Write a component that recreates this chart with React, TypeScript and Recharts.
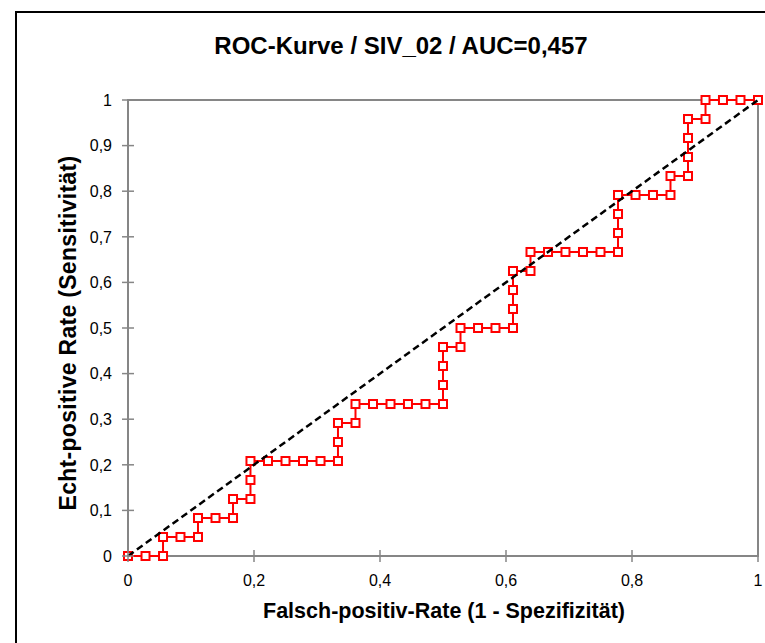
import { ScatterChart, Scatter, XAxis, YAxis, ReferenceArea } from 'recharts'

const RED = '#ff0000'
const AXIS = '#868686'
const FONT = '"Liberation Sans", Arial, sans-serif'

// ROC points (false positive rate, true positive rate)
const FPR = [
  0, 0.0278, 0.0556, 0.0556, 0.0833, 0.1111, 0.1111, 0.1389, 0.1667, 0.1667,
  0.1944, 0.1944, 0.1944, 0.2222, 0.25, 0.2778, 0.3056, 0.3333, 0.3333, 0.3333,
  0.3611, 0.3611, 0.3889, 0.4167, 0.4444, 0.4722, 0.5, 0.5, 0.5, 0.5,
  0.5278, 0.5278, 0.5556, 0.5833, 0.6111, 0.6111, 0.6111, 0.6111, 0.6389, 0.6389,
  0.6667, 0.6944, 0.7222, 0.75, 0.7778, 0.7778, 0.7778, 0.7778, 0.8056, 0.8333,
  0.8611, 0.8611, 0.8889, 0.8889, 0.8889, 0.8889, 0.9167, 0.9167, 0.9444, 0.9722,
  1,
]
const TPR = [
  0, 0, 0, 0.0417, 0.0417, 0.0417, 0.0833, 0.0833, 0.0833, 0.125,
  0.125, 0.1667, 0.2083, 0.2083, 0.2083, 0.2083, 0.2083, 0.2083, 0.25, 0.2917,
  0.2917, 0.3333, 0.3333, 0.3333, 0.3333, 0.3333, 0.3333, 0.375, 0.4167, 0.4583,
  0.4583, 0.5, 0.5, 0.5, 0.5, 0.5417, 0.5833, 0.625, 0.625, 0.6667,
  0.6667, 0.6667, 0.6667, 0.6667, 0.6667, 0.7083, 0.75, 0.7917, 0.7917, 0.7917,
  0.7917, 0.8333, 0.8333, 0.875, 0.9167, 0.9583, 0.9583, 1, 1, 1,
  1,
]
const DIAG_X = [0, 1]
const DIAG_Y = [0, 1]
const X_TICKS = [0, 0.2, 0.4, 0.6, 0.8, 1]
const Y_TICKS = [0, 0.1, 0.2, 0.3, 0.4, 0.5, 0.6, 0.7, 0.8, 0.9, 1]

const roc = FPR.map((x, i) => ({ x, y: TPR[i] }))
const diag = DIAG_X.map((x, i) => ({ x, y: DIAG_Y[i] }))

const fmt = (v: number) => String(v).replace('.', ',')

function Square(p: any) {
  return <rect x={p.cx - 4} y={p.cy - 4} width={8} height={8} fill="#fff" stroke={RED} strokeWidth={2} />
}
const NoDot = () => <g />

// ticks cross the axis line, like the Excel original
function YTick(p: any) {
  const ax = p.x + 16
  return (
    <g>
      <line x1={ax - 6} x2={ax + 6} y1={p.y} y2={p.y} stroke={AXIS} strokeWidth={1.5} />
      <text x={p.x} y={p.y} dy="0.36em" textAnchor="end" fontSize={16} fontFamily={FONT} fill="#000">{fmt(p.payload.value)}</text>
    </g>
  )
}
function XTick(p: any) {
  const ay = p.y - 19
  return (
    <g>
      <line x1={p.x} x2={p.x} y1={ay - 6} y2={ay + 6} stroke={AXIS} strokeWidth={1.5} />
      <text x={p.x} y={p.y} dy="0.71em" textAnchor="middle" fontSize={16} fontFamily={FONT} fill="#000">{fmt(p.payload.value)}</text>
    </g>
  )
}

export default function App() {
  return (
    <div style={{ position: 'absolute', left: 0, top: 0, width: 765, height: 643, overflow: 'hidden', background: '#fff', fontFamily: FONT }}>
      <div style={{ position: 'absolute', left: 15, top: 11, width: 800, height: 700, border: '2px solid #000' }} />
      <div style={{ position: 'absolute', left: 101, top: 34, width: 600, textAlign: 'center', fontSize: 24, lineHeight: '24px', fontWeight: 700 }}>
        ROC-Kurve / SIV_02 / AUC=0,457
      </div>
      <div style={{ position: 'absolute', left: 144, top: 601, width: 600, textAlign: 'center', fontSize: 21.5, lineHeight: '21px', fontWeight: 700 }}>
        Falsch-positiv-Rate (1 - Spezifizität)
      </div>
      <div style={{ position: 'absolute', left: 68 - 250, top: 333 - 15, width: 500, height: 30, lineHeight: '30px', textAlign: 'center', fontSize: 23, fontWeight: 700, letterSpacing: 0.3, transform: 'rotate(-90deg)' }}>
        Echt-positive Rate (Sensitivität)
      </div>
      <div style={{ position: 'absolute', left: 0, top: 0 }}>
        <ScatterChart width={765} height={643} margin={{ top: 100, right: 7, bottom: 57, left: 68 }}>
          <XAxis type="number" dataKey="x" domain={[0, 1]} ticks={X_TICKS} interval={0}
            axisLine={{ stroke: AXIS, strokeWidth: 2 }} tickLine={false} tickSize={6} tickMargin={13} tick={<XTick />} height={30} />
          <YAxis type="number" dataKey="y" domain={[0, 1]} ticks={Y_TICKS} interval={0}
            axisLine={{ stroke: AXIS, strokeWidth: 2 }} tickLine={false} tickSize={6} tickMargin={10} tick={<YTick />} width={60} />
          <ReferenceArea x1={0} x2={1} y1={0} y2={1} fill="none" fillOpacity={0} stroke={AXIS} strokeWidth={2} />
          <Scatter data={roc} line={{ stroke: RED, strokeWidth: 2 }} shape={<Square />} isAnimationActive={false} />
          <Scatter data={diag} line={{ stroke: '#000', strokeWidth: 2.5, strokeDasharray: '7 4' }} shape={<NoDot />} isAnimationActive={false} />
        </ScatterChart>
      </div>
    </div>
  )
}
